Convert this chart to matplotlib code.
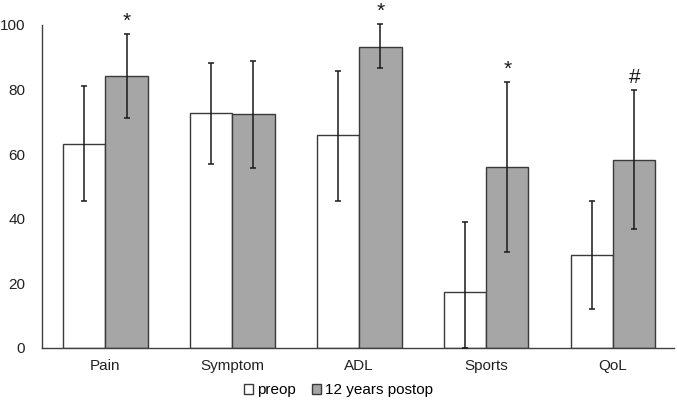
import matplotlib
matplotlib.use("Agg")
import matplotlib.pyplot as plt
import numpy as np
from matplotlib.patches import Patch

plt.rcParams['font.family'] = ['Liberation Sans', 'DejaVu Sans']

categories = ["Pain", "Symptom", "ADL", "Sports", "QoL"]
preop = [63.2, 72.6, 65.8, 17.2, 28.7]
preop_err_low = [17.8, 15.5, 20.3, 17.2, 16.6]
preop_err_high = [18.0, 15.7, 20.0, 21.7, 16.7]
postop = [84.1, 72.3, 93.3, 55.9, 58.3]
postop_err_low = [12.9, 16.7, 6.7, 26.2, 21.5]
postop_err_high = [13.0, 16.7, 6.9, 26.5, 21.6]
marks = ["*", "", "*", "*", "#"]
series_labels = ["preop", "12 years postop"]
yticks = [0, 20, 40, 60, 80, 100]

fig = plt.figure(figsize=(6.77, 4.01), dpi=100)
ax = fig.add_axes([0.062, 0.1322, 0.9336, 0.8055])

x = np.arange(len(categories))
w = 0.333
edge = "#3a3a3a"
ax.bar(x - w / 2, preop, w, color="white", edgecolor=edge, linewidth=1.0, zorder=2)
ax.bar(x + w / 2, postop, w, color="#a6a6a6", edgecolor=edge, linewidth=1.0, zorder=2)
ax.errorbar(x - w / 2, preop, yerr=[preop_err_low, preop_err_high], fmt="none",
            ecolor="#1a1a1a", elinewidth=1.1, capsize=2, capthick=1.1, zorder=3, clip_on=False)
ax.errorbar(x + w / 2, postop, yerr=[postop_err_low, postop_err_high], fmt="none",
            ecolor="#1a1a1a", elinewidth=1.1, capsize=2, capthick=1.1, zorder=3, clip_on=False)

for xi, v, e, m in zip(x, postop, postop_err_high, marks):
    if m:
        ax.text(xi + w / 2, v + e + 1.0, m, ha="center", va="bottom",
                fontsize=15, color="#1a1a1a")

ax.set_xlim(-0.5, 4.48)
ax.set_ylim(0, 100)
ax.set_yticks(yticks)
ax.set_xticks(x)
ax.set_xticklabels(categories, fontsize=11)
ax.tick_params(axis="y", length=0, pad=12, labelsize=11, colors="#222222")
ax.tick_params(axis="x", length=0, pad=8, labelsize=11, colors="#222222")
for s in ["top", "right"]:
    ax.spines[s].set_visible(False)
for s in ["left", "bottom"]:
    ax.spines[s].set_color("#404040")
    ax.spines[s].set_linewidth(1.0)

handles = [Patch(facecolor="white", edgecolor=edge, linewidth=1.0),
           Patch(facecolor="#a6a6a6", edgecolor=edge, linewidth=1.0)]
fig.legend(handles, series_labels, loc="center", bbox_to_anchor=(0.5, 0.027),
           ncol=2, frameon=False, fontsize=11, handlelength=0.6, handleheight=0.6,
           handletextpad=0.3, columnspacing=1.0)

fig.savefig("out.png", dpi=100)
